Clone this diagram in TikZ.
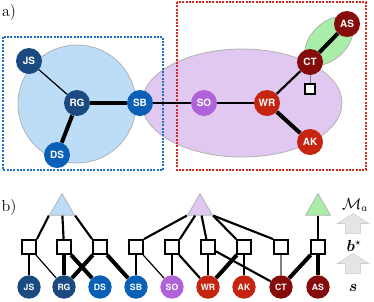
\documentclass[tikz,border=0pt]{standalone}
\usepackage{amsmath}
\usepackage{fontspec}
\usetikzlibrary{shapes.geometric,shapes.arrows}
\newfontfamily\nodefont{TeX Gyre Heros}
\definecolor{navyblue}{HTML}{1A4A80}
\definecolor{midblue}{HTML}{0A60B6}
\definecolor{violet}{HTML}{B062D9}
\definecolor{brightred}{HTML}{C42410}
\definecolor{darkred}{HTML}{860C0C}
\definecolor{paleblue}{HTML}{BDDCF8}
\definecolor{palepurple}{HTML}{E0C8F0}
\definecolor{palegreen}{HTML}{A8EEA8}
\definecolor{dotblue}{HTML}{1A70CC}
\definecolor{dotred}{HTML}{D42A1A}

\tikzset{
  person/.style={circle,fill=#1,text=white,inner sep=0pt,minimum size=19.5pt,
    font=\nodefont\bfseries\fontsize{7.5}{8}\selectfont},
  personb/.style={person=#1,minimum size=17.5pt,
    font=\nodefont\bfseries\fontsize{6.5}{7}\selectfont},
  factor/.style={draw,fill=white,line width=1.4pt,minimum size=10.5pt,inner sep=0pt},
  unary/.style={factor,minimum size=7.5pt,line width=1.6pt},
  group/.style={regular polygon,regular polygon sides=3,draw=gray!60,fill=#1,
    line width=0.6pt,minimum size=21.5pt,inner sep=0pt},
  uparrow/.style={single arrow,shape border rotate=90,draw=gray!40,fill=gray!20,
    single arrow tip angle=115,single arrow head extend=6pt,inner sep=5.5pt,
    minimum height=14pt,minimum width=23pt},
  edgeweak/.style={line width=0.9pt},
  edgemid/.style={line width=1.6pt},
  edgestrong/.style={line width=3pt},
  region/.style={draw=gray!60,line width=0.6pt},
  frame/.style={densely dotted,line width=1.5pt}
}

\begin{document}
\begin{tikzpicture}[x=0.75pt,y=-0.75pt]

\useasboundingbox (0,0) rectangle (374,301);

% ---- a) the social graph ----
\node[font=\large] (la) at (9,13) {a)};

% Groups as shaded regions
\draw[region,fill=paleblue] (77,104) circle (59);
\draw[region,fill=palepurple] (242,103) ellipse (100 and 54);
\draw[region,fill=palegreen,rotate around={45:(329,41)}] (329,41) ellipse (29 and 18);

% Dotted frames
\draw[frame,dotblue] (3,37) rectangle (163,170);
\draw[frame,dotred] (177,2) rectangle (366,170);

% Persons
\node[person=navyblue] (JS) at (29,61) {JS};
\node[person=navyblue] (RG) at (77,103) {RG};
\node[person=midblue] (SB) at (140,103) {SB};
\node[person=midblue] (DS) at (57,155) {DS};
\node[person=violet] (SO) at (204,103) {SO};
\node[person=brightred] (WR) at (267,103) {WR};
\node[person=darkred] (CT) at (310,62) {CT};
\node[person=brightred] (AK) at (310,142) {AK};
\node[person=darkred] (AS) at (347,24) {AS};
\node[unary] (u) at (310,89) {};

% Ties
\draw[edgeweak] (JS) -- (RG);
\draw[edgestrong] (RG) -- (SB);
\draw[edgestrong] (RG) -- (DS);
\draw[edgeweak] (SB) -- (SO);
\draw[edgeweak] (SO) -- (WR);
\draw[edgemid] (WR) -- (CT);
\draw[edgestrong] (WR) -- (AK);
\draw[edgestrong] (CT) -- (AS);
\draw[gray,line width=0.6pt] (CT) -- (u);

% ---- b) the factor graph ----
\node[font=\large] (lb) at (9,207) {b)};

% Group nodes
\node[group=paleblue] (gb) at (62,208) {};
\node[group=palepurple] (gp) at (200,208) {};
\node[group=palegreen] (gg) at (318,208) {};

% Factors and variables
\foreach \name/\x in {js/29,rg/64,ds/100,sb/136,so/172,wr/208,ak/244,ct/281,as/318}{
  \node[factor] (f\name) at (\x,247) {};
}
\node[personb=navyblue] (vjs) at (29,287) {JS};
\node[personb=navyblue] (vrg) at (64,287) {RG};
\node[personb=midblue] (vds) at (100,287) {DS};
\node[personb=midblue] (vsb) at (136,287) {SB};
\node[personb=violet] (vso) at (172,287) {SO};
\node[personb=brightred] (vwr) at (208,287) {WR};
\node[personb=brightred] (vak) at (244,287) {AK};
\node[personb=darkred] (vct) at (281,287) {CT};
\node[personb=darkred] (vas) at (318,287) {AS};

% Group to factor links
\begin{scope}[edgemid]
\draw (gb.corner 2) -- (fjs.north east);
\draw (gb) -- (frg);
\draw (gb.corner 3) -- (fds.north west);
\draw (gp.corner 2) -- (fsb.north east);
\draw (gp) -- (fso.north east);
\draw (gp) -- (fwr);
\draw (gp.corner 3) -- (fak.north west);
\draw (gp.corner 3) -- (fct.north west);
\draw (gg) -- (fas);
\end{scope}

% Factor to variable links
\draw[edgemid] (fjs) -- (vjs);
\draw[edgeweak] (fjs) -- (vrg);
\draw[edgestrong] (frg) -- (vrg);
\draw[edgestrong] (frg) -- (vds);
\draw[edgestrong] (fds) -- (vrg);
\draw[edgestrong] (fds) -- (vsb);
\draw[edgemid] (fsb) -- (vsb);
\draw[edgeweak] (fsb) -- (vso);
\draw[edgemid] (fso) -- (vso);
\draw[edgemid] (fso) -- (vwr);
\draw[edgemid] (fwr) -- (vwr);
\draw[edgemid] (fwr) -- (vct);
\draw[edgemid] (fak) -- (vak);
\draw[edgestrong] (fak) -- (vwr);
\draw[gray,line width=0.8pt] (fct) -- (vct);
\draw[edgestrong] (fas) -- (vct);
\draw[edgestrong] (fas) -- (vas);

% Levels on the right
\node[font=\large] (ma) at (355,205) {$\mathcal{M}_a$};
\node[uparrow] (a1) at (353,226) {};
\node[font=\large] (bs) at (354,246) {$\boldsymbol{b}^\star$};
\node[uparrow] (a2) at (353,266) {};
\node[font=\large] (ss) at (353,288) {$\boldsymbol{s}$};

\end{tikzpicture}
\end{document}
